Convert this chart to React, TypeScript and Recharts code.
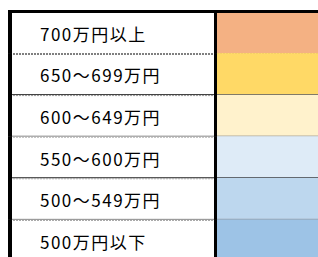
import React from 'react';
import { BarChart, Bar, XAxis, YAxis } from 'recharts';

// legend rows, top to bottom
const labels = ['700万円以上', '650～699万円', '600～649万円', '550～600万円', '500～549万円', '500万円以下'];
const swatchValues = [1, 1, 1, 1, 1, 1];
const swatchColors = ['#F4B183', '#FFD966', '#FFF2CC', '#DEEBF7', '#BDD7EE', '#9DC3E6'];

const rows = labels.map((label, i) => ({ label, value: swatchValues[i], color: swatchColors[i] }));

// separator under each row (last one is cut off by the frame)
const separators = [
  { solid: null, dotted: '#000' },
  { solid: '#333', dotted: '#999' },
  { solid: '#888', dotted: '#aaa' },
  { solid: '#222', dotted: '#aaa' },
  { solid: '#888', dotted: '#999' },
  { solid: null, dotted: null },
];

const LEFT_EDGE = 10;
const LABEL_X = 40;

function SwatchRow(props: any) {
  const { x, y, width, height, payload } = props;
  const i = labels.indexOf(payload.label);
  const sep = separators[i];
  const bottom = y + height;
  const right = x + width;
  return (
    <g>
      <rect x={x} y={y} width={width} height={height} fill={payload.color} />
      {sep.solid && (
        <line x1={LEFT_EDGE} x2={right} y1={bottom - 0.5} y2={bottom - 0.5} stroke={sep.solid} strokeWidth={1} />
      )}
      {sep.dotted && (
        <line
          x1={LEFT_EDGE}
          x2={right}
          y1={bottom + 0.5}
          y2={bottom + 0.5}
          stroke={sep.dotted}
          strokeWidth={1}
          strokeDasharray="2 1"
        />
      )}
      {i === 0 && <line x1={8} x2={right} y1={y} y2={y} stroke="#000" strokeWidth={3} />}
      <line x1={LEFT_EDGE} x2={LEFT_EDGE} y1={i === 0 ? y - 1.5 : y} y2={bottom} stroke="#000" strokeWidth={4} />
      <line x1={x - 1.5} x2={x - 1.5} y1={y} y2={bottom} stroke="#000" strokeWidth={3} />
    </g>
  );
}

function LabelTick(props: any) {
  const { y, payload } = props;
  return (
    <text
      x={LABEL_X}
      y={y + 1}
      dominantBaseline="central"
      textAnchor="start"
      fontSize={17}
      letterSpacing={1.5}
      fill="#000"
      fontFamily="'Noto Sans CJK JP', sans-serif"
    >
      {payload.value}
    </text>
  );
}

export default function App() {
  return (
    <div style={{ position: 'absolute', left: 0, top: 0, width: 318, height: 257, overflow: 'hidden', background: '#fff' }}>
      <BarChart
        width={318}
        height={261}
        data={rows}
        layout="vertical"
        margin={{ top: 11.5, right: 0, bottom: 0, left: 0 }}
        barCategoryGap={0}
      >
        <XAxis type="number" domain={[0, 1]} hide />
        <YAxis
          type="category"
          dataKey="label"
          width={217}
          axisLine={false}
          tickLine={false}
          tickSize={0}
          tickMargin={0}
          tick={<LabelTick />}
          interval={0}
        />
        <Bar dataKey="value" shape={<SwatchRow />} isAnimationActive={false} />
      </BarChart>
    </div>
  );
}
